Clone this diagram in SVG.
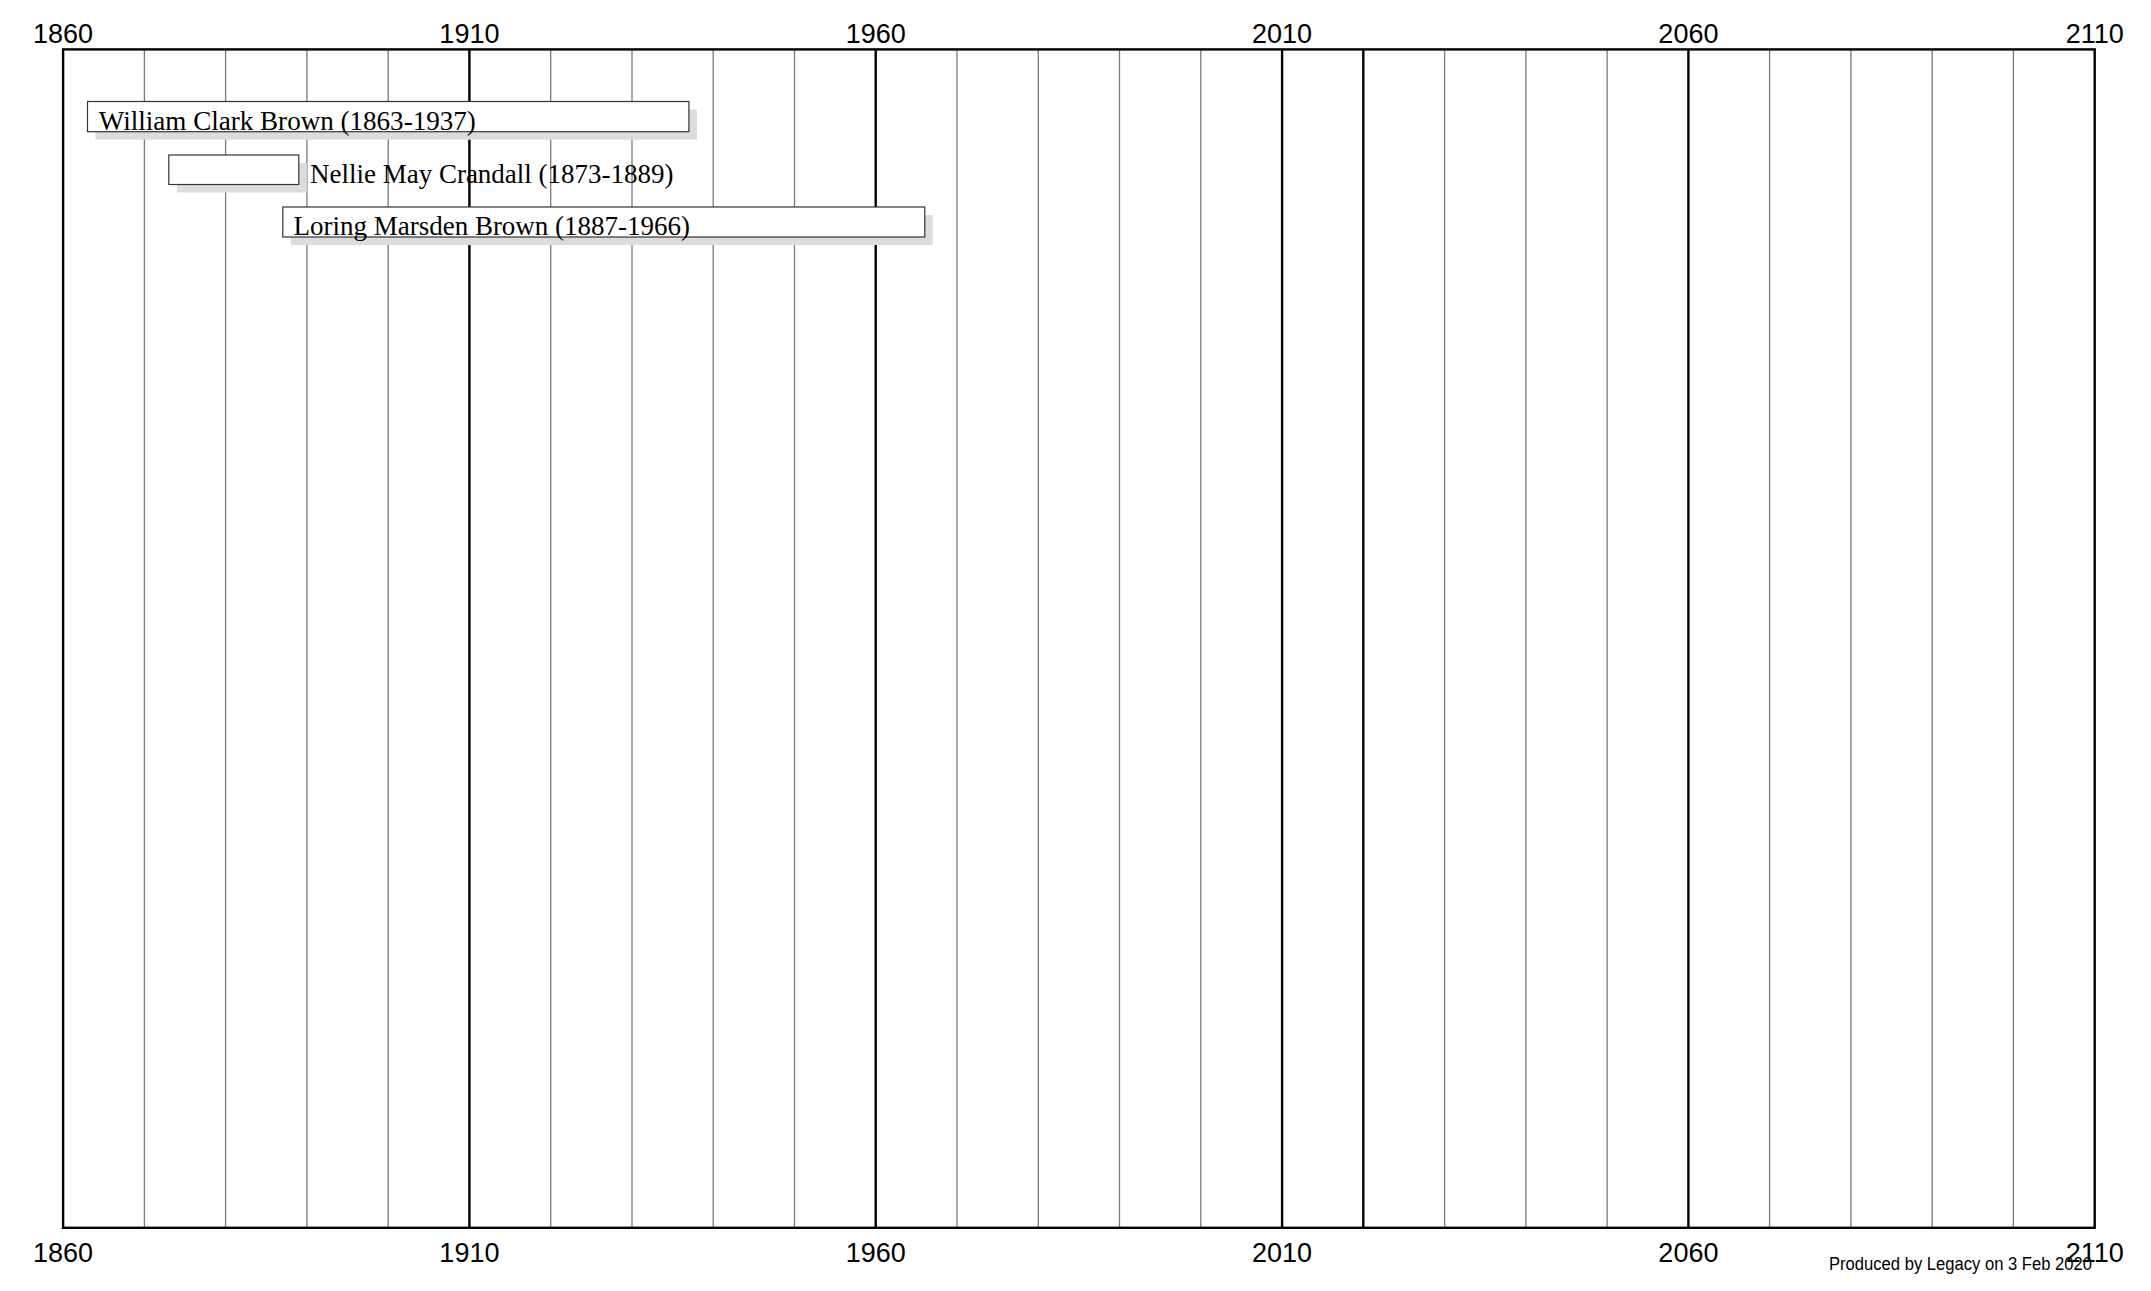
<svg xmlns="http://www.w3.org/2000/svg" width="2151" height="1291" viewBox="0 0 2151 1291">
<style>
.minor{stroke:#7a7a7a;stroke-width:1.3}
.major{stroke:#000;stroke-width:2.4}
.axis{font-family:"Liberation Sans",Arial,sans-serif;font-size:27px;fill:#000;text-anchor:middle}
.box{fill:#fff;stroke:#333;stroke-width:1.2}
.shadow{fill:#dcdcdc}
.name{font-family:"Liberation Serif","Times New Roman",serif;font-size:28px;fill:#000}
.credit{font-family:"Liberation Sans",Arial,sans-serif;font-size:18px;fill:#000}
</style>
<rect width="2151" height="1291" fill="#fff"/>
<g id="grid">
<line class="minor" x1="144.4" y1="49.4" x2="144.4" y2="1227.8"/>
<line class="minor" x1="225.6" y1="49.4" x2="225.6" y2="1227.8"/>
<line class="minor" x1="306.9" y1="49.4" x2="306.9" y2="1227.8"/>
<line class="minor" x1="388.2" y1="49.4" x2="388.2" y2="1227.8"/>
<line class="major" x1="469.4" y1="49.4" x2="469.4" y2="1227.8"/>
<line class="minor" x1="550.7" y1="49.4" x2="550.7" y2="1227.8"/>
<line class="minor" x1="632.0" y1="49.4" x2="632.0" y2="1227.8"/>
<line class="minor" x1="713.2" y1="49.4" x2="713.2" y2="1227.8"/>
<line class="minor" x1="794.5" y1="49.4" x2="794.5" y2="1227.8"/>
<line class="major" x1="875.7" y1="49.4" x2="875.7" y2="1227.8"/>
<line class="minor" x1="957.0" y1="49.4" x2="957.0" y2="1227.8"/>
<line class="minor" x1="1038.3" y1="49.4" x2="1038.3" y2="1227.8"/>
<line class="minor" x1="1119.5" y1="49.4" x2="1119.5" y2="1227.8"/>
<line class="minor" x1="1200.8" y1="49.4" x2="1200.8" y2="1227.8"/>
<line class="major" x1="1282.1" y1="49.4" x2="1282.1" y2="1227.8"/>
<line class="major" x1="1363.3" y1="49.4" x2="1363.3" y2="1227.8"/>
<line class="minor" x1="1444.6" y1="49.4" x2="1444.6" y2="1227.8"/>
<line class="minor" x1="1525.9" y1="49.4" x2="1525.9" y2="1227.8"/>
<line class="minor" x1="1607.1" y1="49.4" x2="1607.1" y2="1227.8"/>
<line class="major" x1="1688.4" y1="49.4" x2="1688.4" y2="1227.8"/>
<line class="minor" x1="1769.6" y1="49.4" x2="1769.6" y2="1227.8"/>
<line class="minor" x1="1850.9" y1="49.4" x2="1850.9" y2="1227.8"/>
<line class="minor" x1="1932.2" y1="49.4" x2="1932.2" y2="1227.8"/>
<line class="minor" x1="2013.4" y1="49.4" x2="2013.4" y2="1227.8"/>
<rect x="63.1" y="49.4" width="2031.6" height="1178.4" fill="none" stroke="#000" stroke-width="2.4"/>
</g>
<g id="axis-top">
<text class="axis" x="63.1" y="42.5">1860</text>
<text class="axis" x="469.4" y="42.5">1910</text>
<text class="axis" x="875.7" y="42.5">1960</text>
<text class="axis" x="1282.1" y="42.5">2010</text>
<text class="axis" x="1688.4" y="42.5">2060</text>
<text class="axis" x="2094.7" y="42.5">2110</text>
</g>
<g id="axis-bottom">
<text class="axis" x="63.1" y="1262">1860</text>
<text class="axis" x="469.4" y="1262">1910</text>
<text class="axis" x="875.7" y="1262">1960</text>
<text class="axis" x="1282.1" y="1262">2010</text>
<text class="axis" x="1688.4" y="1262">2060</text>
<text class="axis" x="2094.7" y="1262">2110</text>
</g>
<g id="william">
<rect class="shadow" x="95.5" y="109.5" width="601.4" height="30.2"/>
<rect class="box" x="87.5" y="101.5" width="601.4" height="30.2"/>
<text class="name" x="98.8" y="130" textLength="377" lengthAdjust="spacingAndGlyphs">William Clark Brown (1863-1937)</text>
</g>
<g id="nellie">
<rect class="shadow" x="176.8" y="163" width="130" height="29.5"/>
<rect class="box" x="168.8" y="155" width="130" height="29.5"/>
<text class="name" x="310" y="182.5" textLength="363.5" lengthAdjust="spacingAndGlyphs">Nellie May Crandall (1873-1889)</text>
</g>
<g id="loring">
<rect class="shadow" x="290.8" y="215" width="642" height="30"/>
<rect class="box" x="282.8" y="207" width="642" height="30"/>
<text class="name" x="293.5" y="234.6" textLength="396.5" lengthAdjust="spacingAndGlyphs">Loring Marsden Brown (1887-1966)</text>
</g>
<g id="connectors"/>
<text class="credit" x="1829" y="1270" textLength="263" lengthAdjust="spacingAndGlyphs">Produced by Legacy on 3 Feb 2020</text>
</svg>
